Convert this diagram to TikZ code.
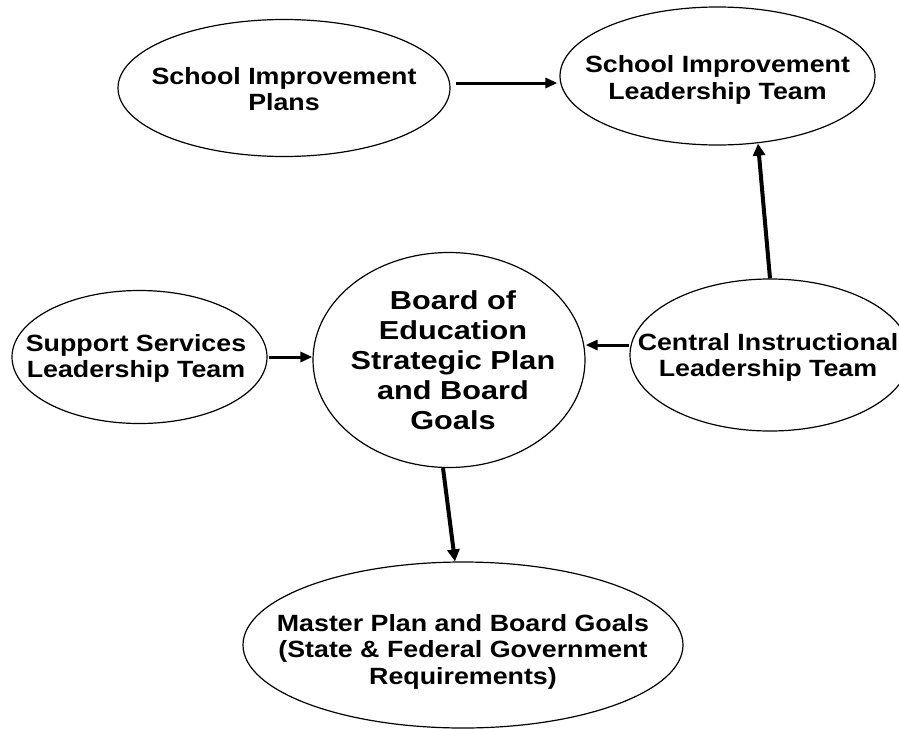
\documentclass[tikz,border=0pt]{standalone}
\usepackage{fontspec}
\setmainfont{Liberation Sans}
\newfontfamily\smallfam{Liberation Sans}[FakeStretch=1.14]
\newfontfamily\bigfam{Liberation Sans}[FakeStretch=1.18]
\usetikzlibrary{shapes.geometric, arrows.meta}
\begin{document}
\begin{tikzpicture}[x=1pt,y=-1pt,
  oval/.style={draw, line width=1.2pt, ellipse, inner sep=0pt},
  txt/.style={align=center, inner sep=0pt, font=\smallfam\bfseries\fontsize{23.5}{26.5}\selectfont},
  bigtxt/.style={align=center, inner sep=0pt, font=\bigfam\bfseries\fontsize{26}{30}\selectfont},
  arr/.style={line width=3pt, -{Triangle[length=12pt,width=10pt]}},
  varr/.style={line width=4pt, -{Triangle[length=12pt,width=12pt]}},
]
\useasboundingbox (0,0) rectangle (899,728);
\fill[white] (0,0) rectangle (899,728);

\node[oval, minimum width=332pt, minimum height=137pt] (sip) at (284,88) {};
\node[txt] (sipt) at (284,89) {School Improvement\\Plans};

\node[oval, minimum width=315pt, minimum height=138pt] (silt) at (717.5,76) {};
\node[txt] (siltt) at (717.5,80) {School Improvement\\Leadership Team};

\node[oval, minimum width=255pt, minimum height=133pt] (sup) at (139.5,357) {};
\node[txt] (supt) at (136,358.5) {Support Services\\Leadership Team};

\node[oval, minimum width=272pt, minimum height=215pt] (board) at (449,360) {};
\node[bigtxt] (boardt) at (453,360.5) {Board of\\Education\\Strategic Plan\\and Board\\Goals};

\node[oval, minimum width=280pt, minimum height=152pt] (cilt) at (770,355) {};
\node[txt] (ciltt) at (768,357.5) {Central Instructional\\Leadership Team};

\node[oval, minimum width=440pt, minimum height=166pt] (master) at (463,645) {};
\node[txt] (mastert) at (463,651.5) {Master Plan and Board Goals\\(State \& Federal Government\\Requirements)};

\draw[arr] ([shift={(5,-5)}]sip.east) -- ([shift={(-2,7)}]silt.west);
\draw[varr] (cilt.north) -- ([shift={(40.5,-2)}]silt.south);
\draw[arr] ([shift={(0,-10)}]cilt.west) -- ([shift={(0,-15)}]board.east);
\draw[arr] ([shift={(1,0)}]sup.east) -- ([shift={(0,-3)}]board.west);
\draw[varr] ([shift={(-6,0)}]board.south) -- ([shift={(-8,0)}]master.north);
\end{tikzpicture}
\end{document}
